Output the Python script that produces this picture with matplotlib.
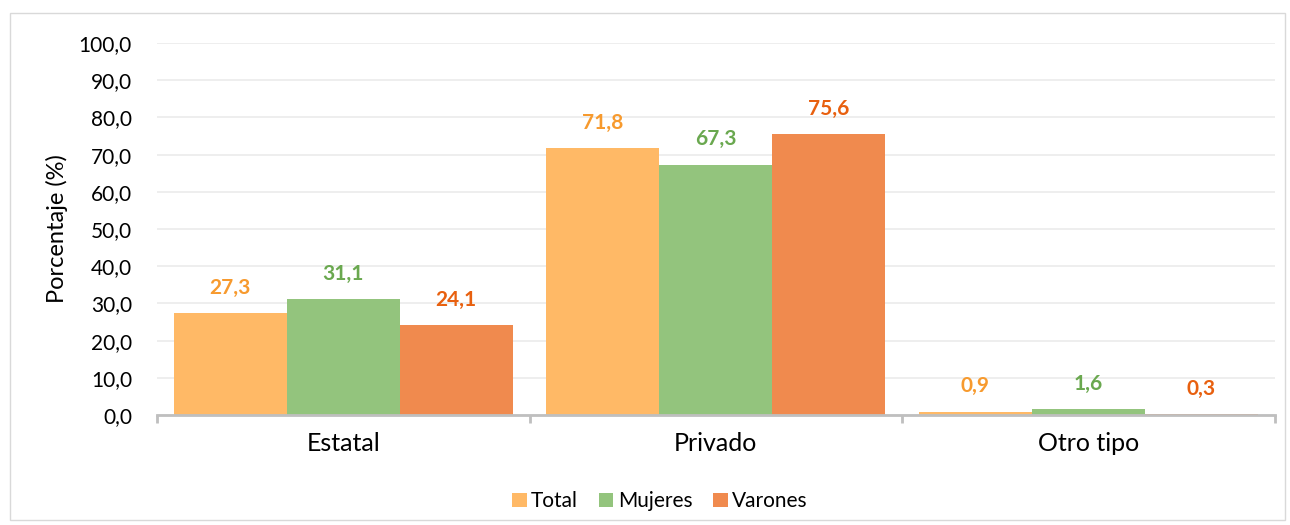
import numpy as np
import matplotlib.pyplot as plt
from matplotlib.patches import Rectangle

categorias = ['Estatal', 'Privado', 'Otro tipo']
series = ['Total', 'Mujeres', 'Varones']
total = [27.3, 71.8, 0.9]
mujeres = [31.1, 67.3, 1.6]
varones = [24.1, 75.6, 0.3]

colores_barra = ['#FFB966', '#93C47D', '#F08A4E']
colores_texto = ['#F79A2E', '#6AA84F', '#E8600F']

plt.rcParams['font.family'] = ['Lato', 'DejaVu Sans']

fig = plt.figure(figsize=(12.9, 5.25), dpi=100)
ax = fig.add_axes([0.1217, 0.2095, 0.8663, 0.7085])

# marco exterior
fig.patches.append(Rectangle((0.008, 0.01), 0.988, 0.966, transform=fig.transFigure,
                             fill=False, edgecolor='#D9D9D9', linewidth=1))

x = np.arange(len(categorias))
ancho = 0.303
for i, (nombre, valores) in enumerate(zip(series, [total, mujeres, varones])):
    pos = x + (i - 1) * ancho
    ax.bar(pos, valores, width=ancho, color=colores_barra[i], label=nombre, zorder=2)
    for xp, v in zip(pos, valores):
        ax.annotate(f'{v:.1f}'.replace('.', ','), (xp, v), xytext=(0, 11),
                    textcoords='offset points', ha='center', va='bottom',
                    fontsize=15, fontweight='bold', color=colores_texto[i])

ax.set_xlim(-0.5, 2.5)
ax.set_ylim(0, 100)
ax.set_yticks(np.arange(0, 101, 10))
ax.set_yticklabels([f'{t:.1f}'.replace('.', ',') for t in np.arange(0, 101, 10)], fontsize=15)
ax.yaxis.grid(True, color='#EBEBEB', linewidth=1.2, zorder=0)
ax.set_axisbelow(True)
ax.tick_params(axis='y', length=0, pad=18)

ax.set_xticks(x)
ax.set_xticklabels(categorias, fontsize=18)
ax.set_xticks([-0.5, 0.5, 1.5, 2.5], minor=True)
ax.tick_params(axis='x', which='major', length=0, pad=12)
ax.tick_params(axis='x', which='minor', length=6, width=2, color='#BFBFBF')

for lado in ['top', 'right', 'left']:
    ax.spines[lado].set_visible(False)
ax.spines['bottom'].set_color('#BFBFBF')
ax.spines['bottom'].set_linewidth(2)
ax.spines['bottom'].set_zorder(3)

ax.set_ylabel('Porcentaje (%)', fontsize=17, labelpad=8)

ax.legend(loc='upper center', bbox_to_anchor=(0.45, -0.155), ncol=3, frameon=False,
          fontsize=15, handlelength=0.7, handleheight=0.7, handletextpad=0.2,
          columnspacing=1.0)

fig.savefig('out.png', dpi=100)
